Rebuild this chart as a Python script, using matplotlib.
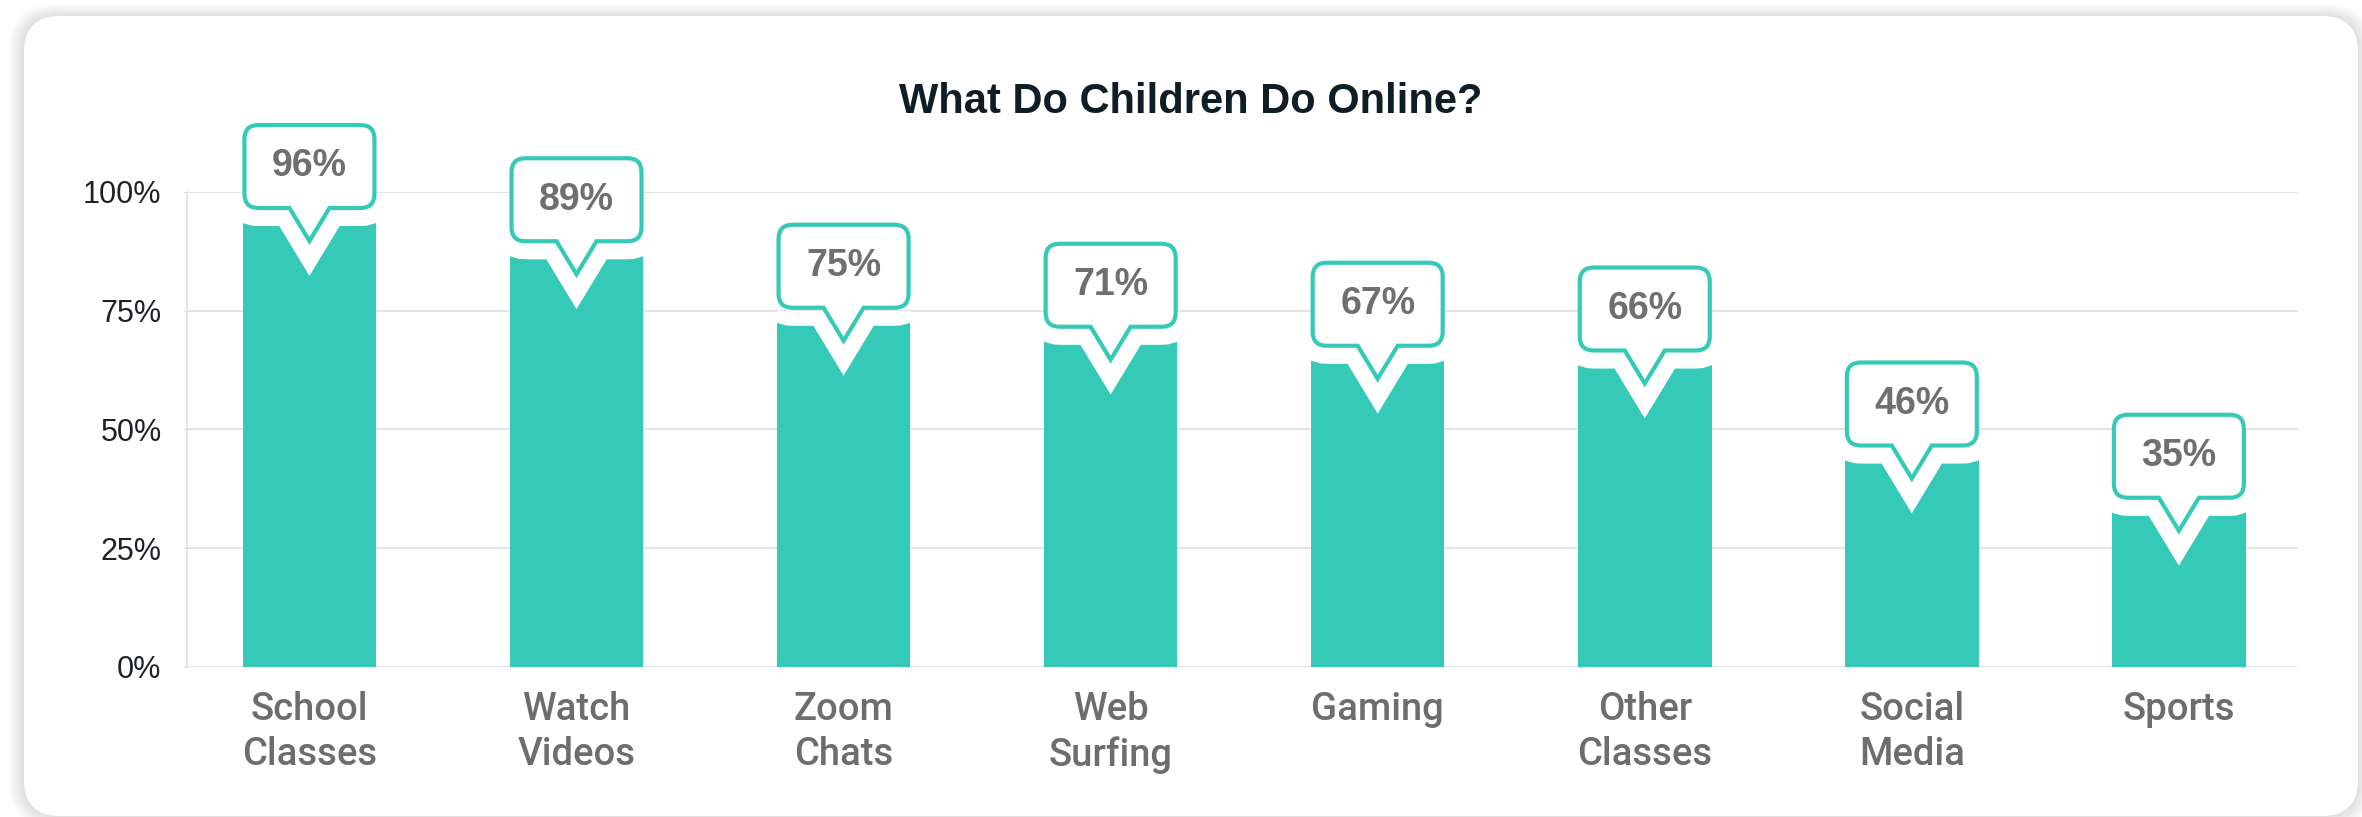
import matplotlib
matplotlib.use("Agg")
import matplotlib.pyplot as plt
from matplotlib import transforms
from matplotlib.path import Path
from matplotlib.patches import PathPatch, FancyBboxPatch

# data
categories = ["School\nClasses", "Watch\nVideos", "Zoom\nChats", "Web\nSurfing",
              "Gaming", "Other\nClasses", "Social\nMedia", "Sports"]
percent = [96, 89, 75, 71, 67, 66, 46, 35]
yticks = [0, 25, 50, 75, 100]

teal = "#35cab7"
grid_col = "#dcdcdc"

plt.rcParams["font.family"] = ["Liberation Sans", "DejaVu Sans"]

fig = plt.figure(figsize=(23.62, 8.17), dpi=100)
fig.patch.set_facecolor("white")

# card behind the chart (pixel units)
bg = fig.add_axes([0, 0, 1, 1], zorder=0)
bg.set_xlim(0, 2362)
bg.set_ylim(817, 0)
bg.axis("off")
for k in range(10, 0, -1):
    bg.add_patch(FancyBboxPatch((24 - k * 1.6, 16 - k * 1.2), 2334 + k * 3.2, 800 + k * 2.4,
                                boxstyle="round,pad=0,rounding_size=%d" % (36 + k),
                                fc="black", ec="none", alpha=0.012))
bg.add_patch(FancyBboxPatch((24, 16), 2334, 800, boxstyle="round,pad=0,rounding_size=36",
                            fc="white", ec="none"))

ax = fig.add_axes([0.0790, 0.1836, 0.8939, 0.5814], zorder=1)
ax.set_facecolor("none")

x = list(range(len(categories)))
bars = ax.bar(x, percent, width=0.5, color=teal, zorder=2)

ax.set_xlim(-0.46, 7.446)
ax.set_ylim(0, 100)
ax.set_yticks(yticks)
ax.set_yticklabels([f"{t}%" for t in yticks], fontsize=22, color="#1e2226")
ax.set_xticks(x)
ax.set_xticklabels(categories, fontsize=27.5, color="#6d6d6d", family="Roboto",
                   fontweight="medium", linespacing=1.3)
ax.tick_params(axis="y", length=3, color=grid_col, pad=15)
ax.tick_params(axis="x", length=0, pad=17)
ax.grid(axis="y", color=grid_col, linewidth=1.1, zorder=0)
ax.set_axisbelow(True)
for side in ["top", "right", "bottom"]:
    ax.spines[side].set_visible(False)
ax.spines["left"].set_color(grid_col)
ax.spines["left"].set_linewidth(1.1)

# speech-bubble callout, in inches relative to the top of each bar
w, r = 0.65, 0.14
yb, yt = 0.03, 0.86
pw, tip = 0.20, -0.30
verts = [(-w + r, yb), (-pw, yb), (0, tip), (pw, yb), (w - r, yb),
         (w, yb), (w, yb + r), (w, yt - r), (w, yt), (w - r, yt),
         (-w + r, yt), (-w, yt), (-w, yt - r), (-w, yb + r), (-w, yb), (-w + r, yb),
         (0, 0)]
codes = [Path.MOVETO, Path.LINETO, Path.LINETO, Path.LINETO, Path.LINETO,
         Path.CURVE3, Path.CURVE3, Path.LINETO, Path.CURVE3, Path.CURVE3,
         Path.LINETO, Path.CURVE3, Path.CURVE3, Path.LINETO, Path.CURVE3, Path.CURVE3,
         Path.CLOSEPOLY]
bubble = Path(verts, codes)

for xi, v, bar in zip(x, percent, bars):
    tr = fig.dpi_scale_trans + transforms.ScaledTranslation(xi, v, ax.transData)
    halo = PathPatch(bubble, transform=tr, fc="white", ec="white", lw=26,
                     joinstyle="miter", zorder=3, clip_on=True)
    ax.add_patch(halo)
    halo.set_clip_path(bar)
    ax.add_patch(PathPatch(bubble, transform=tr, fc="white", ec=teal, lw=3,
                           joinstyle="miter", zorder=4, clip_on=False))
    ax.text(0, (yb + yt) / 2, f"{v}%", transform=tr, ha="center", va="center",
            fontsize=27, fontweight="bold", color="#6f6f6f", zorder=5)

fig.text(0.504, 1 - 113 / 817, "What Do Children Do Online?", ha="center", va="baseline",
         fontsize=30, fontweight="bold", color="#0f1e26")

fig.savefig("out.png", dpi=100)
